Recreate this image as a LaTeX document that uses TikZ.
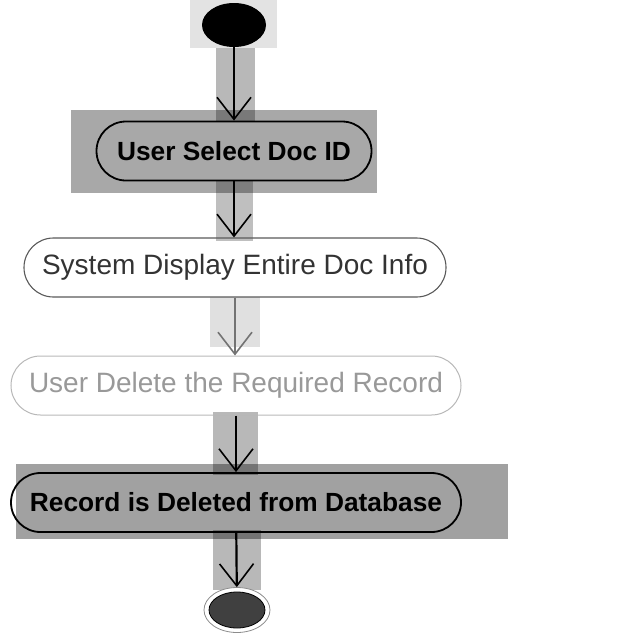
\documentclass[tikz,border=0pt]{standalone}
\usepackage{fontspec}
\setmainfont{Liberation Sans}
\usetikzlibrary{arrows.meta,shapes.geometric}
\begin{document}
\begin{tikzpicture}[x=1pt,y=-1pt,
  hl/.style={fill=black,draw=none},
  act/.style={rectangle,rounded corners=29.5pt,minimum height=59pt,inner sep=0pt,align=center},
  arr/.style={-{Straight Barb[length=22pt,width=34pt,line width=1.6pt]},line width=2.2pt},
  bigtxt/.style={font=\fontsize{28}{30}\selectfont},
  boldtxt/.style={font=\fontsize{26.3}{30}\selectfont\bfseries}]
\useasboundingbox (0,0) rectangle (640,640);
% highlight rectangles
\fill[hl,fill opacity=0.11] (190,0) rectangle (277,48);
\fill[hl,fill opacity=0.28] (216,48) rectangle (255,122);
\fill[hl,fill opacity=0.34] (71,110) rectangle (377,193);
\fill[hl,fill opacity=0.25] (216,180) rectangle (253,241);
\fill[hl,fill opacity=0.12] (210,297) rectangle (260,347);
\fill[hl,fill opacity=0.28] (213,412) rectangle (258,475);
\fill[hl,fill opacity=0.37] (16,464) rectangle (508,539);
\fill[hl,fill opacity=0.28] (213,530) rectangle (261,590);
% nodes
\node[ellipse,fill=black,minimum width=64pt,minimum height=44pt,inner sep=0pt] (start) at (234,25) {};
\node[act,boldtxt,draw=black,line width=1.8pt,minimum width=275pt] (a1) at (234,151) {User Select Doc ID};
\node[act,bigtxt,draw=black!65,line width=1.1pt,minimum width=422pt,text=black!80] (a2) at (235,267.5) {System Display Entire Doc Info};
\node[act,bigtxt,draw=black!28,line width=1pt,minimum width=450pt,text=black!40] (a3) at (236,385.5) {User Delete the Required Record};
\node[act,boldtxt,draw=black,line width=1.8pt,minimum width=450pt] (a4) at (236,502.5) {Record is Deleted from Database};
\node[ellipse,draw=black!45,line width=0.8pt,fill=white,minimum width=66pt,minimum height=45pt,inner sep=0pt] (end) at (237,610) {};
\node[ellipse,draw=black,line width=0.8pt,fill=black!75,minimum width=56pt,minimum height=36pt,inner sep=0pt] (endin) at (237,610) {};
% connectors
\draw[arr] (start) -- (start |- a1.north);
\draw[arr] (a1) -- (a1 |- a2.north);
\draw[arr,draw=black!55] (a2) -- (a2 |- a3.north);
\draw[arr] (a3) -- (a3 |- a4.north);
\draw[arr] (a4) -- (end);
\end{tikzpicture}
\end{document}
